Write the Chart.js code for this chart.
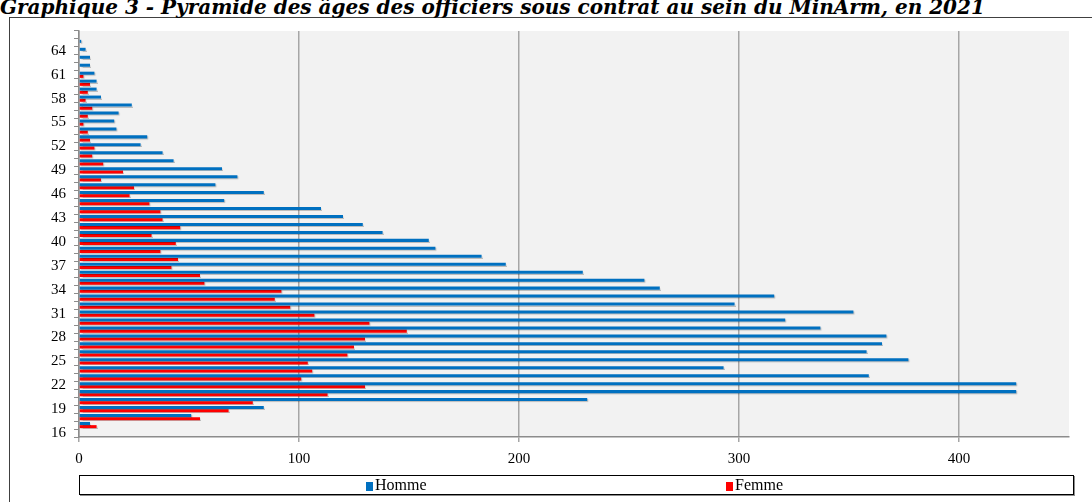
<!DOCTYPE html>
<html lang="fr">
<head>
<meta charset="utf-8">
<title>Pyramide des âges des officiers sous contrat</title>
<script src="https://cdn.jsdelivr.net/npm/chart.js@4.4.1/dist/chart.umd.min.js"></script>
<style>
  html, body { margin: 0; padding: 0; background: #fff; width: 1092px; height: 502px; overflow: hidden; }
  #title { position: absolute; left: 0; top: -5px; margin: 0; line-height: 21px;
           font: italic bold 20px "DejaVu Serif", serif; white-space: nowrap; color: #000; }
  #frame { position: absolute; left: 9px; top: 17px; width: 1092px; height: 500px; border: 1px solid #404040; box-sizing: border-box; background: #fff; }
  #chart { position: absolute; left: 0; top: 0; }
  #legend { position: absolute; left: 79px; top: 475px; width: 995px; height: 20px; box-sizing: border-box;
            border: 1px solid #000; box-shadow: 1px 1px 0 #8c8c8c; background: #fff;
            font: 16px "Liberation Serif", serif; color: #000; }
  .item { position: absolute; top: 0; line-height: 18px; white-space: nowrap; }
  .sw { display: inline-block; width: 7px; height: 9px; margin-right: 2px; vertical-align: -1px; }
</style>
</head>
<body>
<div id="frame"></div>
<div id="title">Graphique 3 - Pyramide des âges des officiers sous contrat au sein du MinArm, en 2021</div>
<canvas id="chart" width="1092" height="502"></canvas>
<div id="legend">
  <span class="item" style="left:286px"><span class="sw" style="background:#0070c0"></span>Homme</span>
  <span class="item" style="left:646px"><span class="sw" style="background:#ff0000"></span>Femme</span>
</div>
<script>
// Age categories, youngest first
const ages = [16, 17, 18, 19, 20, 21, 22, 23, 24, 25, 26, 27, 28, 29, 30, 31, 32, 33, 34, 35,
              36, 37, 38, 39, 40, 41, 42, 43, 44, 45, 46, 47, 48, 49, 50, 51, 52, 53, 54, 55,
              56, 57, 58, 59, 60, 61, 62, 63, 64, 65, 66];

// Headcount of men per age
const homme = [0, 5, 51, 84, 231, 426, 426, 359, 293, 377, 358, 365, 367, 337, 321, 352, 298, 316, 264, 257,
               229, 194, 183, 162, 159, 138, 129, 120, 110, 66, 84, 62, 72, 65, 43, 38, 28, 31, 17, 16,
               18, 24, 10, 8, 8, 7, 5, 5, 3, 1, 0];

// Headcount of women per age
const femme = [0, 8, 55, 68, 79, 113, 130, 101, 106, 104, 122, 125, 130, 149, 132, 107, 96, 89, 92, 57,
               55, 42, 45, 37, 44, 33, 46, 38, 37, 32, 23, 25, 10, 20, 11, 6, 7, 5, 4, 2,
               4, 6, 3, 4, 5, 2, 0, 0, 0, 0, 0];

// Ages that carry a label on the vertical axis
const yTickAges = [16, 19, 22, 25, 28, 31, 34, 37, 40, 43, 46, 49, 52, 55, 58, 61, 64];

// Horizontal axis range and step
const xMin = 0, xMax = 450, xStep = 100;

const axisFont = { family: '"Liberation Serif", serif', size: 15 };

// Light grey plotting area
const plotBg = {
  id: 'plotBg',
  beforeDraw(chart) {
    const { ctx, chartArea: a } = chart;
    ctx.save();
    ctx.fillStyle = '#f2f2f2';
    ctx.fillRect(a.left, a.top, a.width, a.height);
    ctx.restore();
  }
};

// Soft drop shadow under the bars
const barShadow = {
  id: 'barShadow',
  beforeDatasetsDraw(chart) {
    const ctx = chart.ctx;
    ctx.save();
    ctx.shadowColor = 'rgba(0,0,0,0.22)';
    ctx.shadowOffsetX = 1;
    ctx.shadowOffsetY = 1;
    ctx.shadowBlur = 1;
  },
  afterDatasetsDraw(chart) {
    chart.ctx.restore();
  }
};

new Chart(document.getElementById('chart'), {
  type: 'bar',
  data: {
    labels: ages.map(String),
    datasets: [
      { label: 'Homme', data: homme, backgroundColor: '#0070c0',
        categoryPercentage: 0.8, barPercentage: 0.95 },
      { label: 'Femme', data: femme, backgroundColor: '#ff0000',
        categoryPercentage: 0.8, barPercentage: 0.95 }
    ]
  },
  options: {
    indexAxis: 'y',
    responsive: false,
    animation: false,
    devicePixelRatio: 1,
    layout: { padding: { left: 10, top: 31, right: 23, bottom: 35 } },
    plugins: {
      legend: { display: false },
      tooltip: { enabled: false },
      title: { display: false }
    },
    scales: {
      y: {
        type: 'category',
        reverse: true,
        offset: true,
        afterFit(scale) { scale.width = 69; },
        grid: { offset: true, drawOnChartArea: false, drawTicks: true, tickLength: 5,
                color: '#8c8c8c', lineWidth: 1 },
        border: { color: '#8c8c8c', width: 1.5 },
        ticks: {
          autoSkip: false,
          padding: 8,
          color: '#000',
          font: axisFont,
          callback: (v, i) => yTickAges.includes(ages[i]) ? String(ages[i]) : ''
        }
      },
      x: {
        type: 'linear',
        min: xMin,
        max: xMax,
        afterFit(scale) { scale.height = 30; },
        grid: { color: '#a6a6a6', lineWidth: 1.5, drawTicks: true, tickLength: 5 },
        border: { color: '#8c8c8c', width: 1.5 },
        ticks: { stepSize: xStep, includeBounds: false, padding: 8, color: '#000', font: axisFont }
      }
    }
  },
  plugins: [plotBg, barShadow]
});
</script>
</body>
</html>
